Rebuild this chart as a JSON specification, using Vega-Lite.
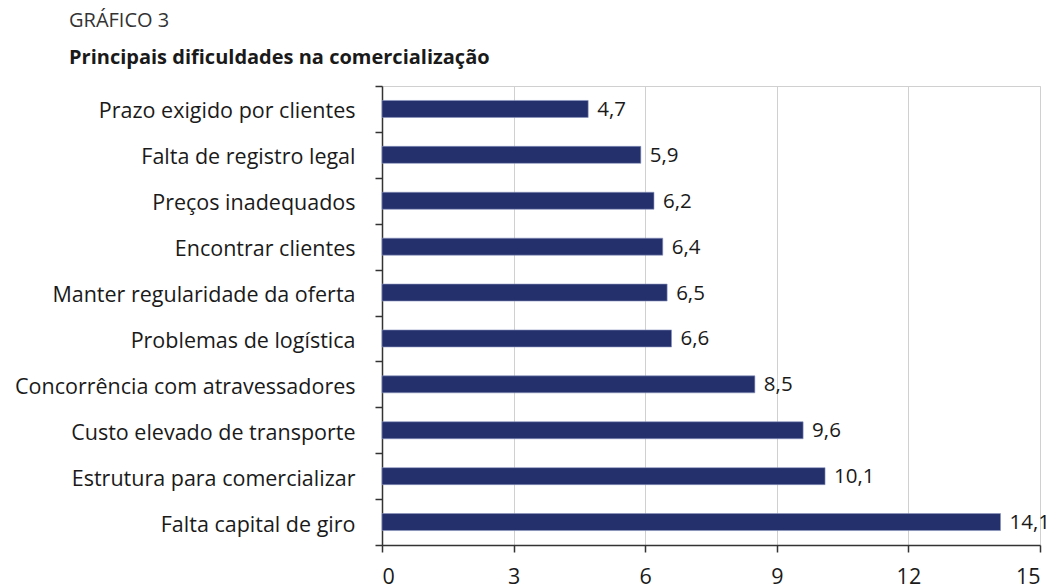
{
  "$schema": "https://vega.github.io/schema/vega-lite/v6.json",
  "width": 658,
  "height": 459,
  "autosize": {"type": "none"},
  "padding": {"left": 382, "top": 86, "right": 6, "bottom": 43},
  "background": "white",
  "title": {
    "text": "GRÁFICO 3",
    "subtitle": "Principais dificuldades na comercialização",
    "anchor": "start",
    "frame": "group",
    "dx": -313,
    "offset": 7,
    "font": "Open Sans",
    "fontSize": 20,
    "fontWeight": "normal",
    "color": "#333333",
    "subtitleFont": "Open Sans",
    "subtitleFontSize": 20,
    "subtitleFontWeight": "bold",
    "subtitleColor": "#1a1a1a",
    "subtitlePadding": 17
  },
  "data": {
    "values": [
      {"cat": "Prazo exigido por clientes", "v": 4.7},
      {"cat": "Falta de registro legal", "v": 5.9},
      {"cat": "Preços inadequados", "v": 6.2},
      {"cat": "Encontrar clientes", "v": 6.4},
      {"cat": "Manter regularidade da oferta", "v": 6.5},
      {"cat": "Problemas de logística", "v": 6.6},
      {"cat": "Concorrência com atravessadores", "v": 8.5},
      {"cat": "Custo elevado de transporte", "v": 9.6},
      {"cat": "Estrutura para comercializar", "v": 10.1},
      {"cat": "Falta capital de giro", "v": 14.1}
    ]
  },
  "encoding": {
    "y": {
      "field": "cat",
      "type": "nominal",
      "sort": null,
      "scale": {"paddingInner": 0, "paddingOuter": 0},
      "axis": {
        "title": null,
        "tickBand": "extent",
        "tickSize": 7,
        "tickColor": "#333333",
        "domainColor": "#333333",
        "domainWidth": 1.5,
        "tickWidth": 1.5,
        "labelPadding": 20,
        "labelOffset": 3,
        "labelFont": "Open Sans",
        "labelFontSize": 21.5,
        "labelColor": "#1a1a1a",
        "labelLimit": 400,
        "grid": false
      }
    },
    "x": {
      "field": "v",
      "type": "quantitative",
      "scale": {"domain": [0, 15], "nice": false},
      "axis": {
        "title": null,
        "values": [0, 3, 6, 9, 12, 15],
        "tickSize": 7,
        "tickColor": "#333333",
        "tickWidth": 1.5,
        "domainColor": "#333333",
        "domainWidth": 1.5,
        "labelPadding": 14,
        "labelFont": "Open Sans",
        "labelFontSize": 21.5,
        "labelColor": "#1a1a1a",
        "grid": true,
        "gridColor": "#d0d0d0",
        "gridWidth": 1
      }
    }
  },
  "layer": [
    {
      "mark": {"type": "bar", "color": "#24306B", "stroke": "#8a93c0", "strokeWidth": 0.6, "height": {"band": 0.37}}
    },
    {
      "mark": {"type": "text", "align": "left", "baseline": "middle", "dx": 9, "dy": 1, "font": "Open Sans", "fontSize": 20.5, "color": "#1a1a1a"},
      "encoding": {
        "text": {"field": "v", "type": "quantitative", "format": ".1f"}
      }
    }
  ],
  "config": {
    "locale": {
      "number": {"decimal": ",", "thousands": ".", "grouping": [3], "currency": ["R$", ""]}
    },
    "view": {"stroke": "#d0d0d0"}
  }
}
